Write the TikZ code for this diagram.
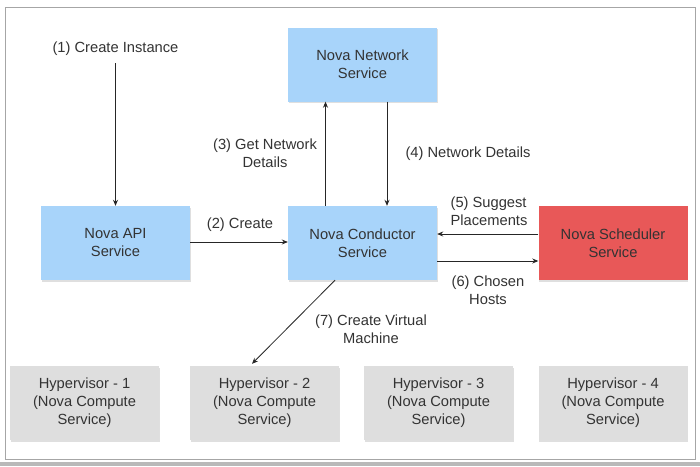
\documentclass[tikz,border=0pt]{standalone}
\usepackage{fontspec}
\setmainfont{Liberation Sans}
\usetikzlibrary{arrows.meta,shadows}
\definecolor{novablue}{RGB}{168,212,250}
\definecolor{novared}{RGB}{232,88,88}
\definecolor{hvgray}{RGB}{222,222,222}
\definecolor{txtgray}{RGB}{51,51,51}
\tikzset{
    service/.style={minimum width=149pt, minimum height=74pt, align=center,
        inner sep=0pt, text=txtgray, font=\fontsize{14.7}{18}\selectfont,
        drop shadow={shadow xshift=0.5pt, shadow yshift=-1.5pt, opacity=0.25}},
    label/.style={align=center, inner sep=1pt, text=txtgray,
        font=\fontsize{14.7}{17.5}\selectfont},
    arr/.style={-{Stealth[length=6pt,width=5pt]}, line width=0.8pt, black!85}
}
\begin{document}
\begin{tikzpicture}[x=1pt,y=-1pt]
        \useasboundingbox (0,0) rectangle (700,466);
        \fill[white] (0,0) rectangle (700,466);
        \draw[gray!70, line width=1pt] (5,7) rectangle (695,459);
        \fill[gray!55] (0,462) rectangle (700,466);
        % services
        \node[service, fill=novablue] (net) at (362.5,64.5) {Nova Network\\Service};
        \node[service, fill=novablue] (api) at (115.5,243) {Nova API\\Service};
        \node[service, fill=novablue] (cond) at (362.5,243) {Nova Conductor\\Service};
        \node[service, fill=novared] (sched) at (613,243) {Nova Scheduler\\Service};
        % hypervisors
        \foreach \i/\x in {1/84.5, 2/264.5, 3/438.5, 4/613}
            \node[service, fill=hvgray] (hv\i) at (\x,403) {Hypervisor - \i\\(Nova Compute\\Service)};
        % labels
        \node[label] (create) at (115.5,49) {(1) Create Instance};
        \node[label] at (240,225) {(2) Create};
        \node[label] at (265,153) {(3) Get Network\\Details};
        \node[label] at (468,154) {(4) Network Details};
        \node[label, align=left] at (489,211) {(5) Suggest\\Placements};
        \node[label] at (488,290) {(6) Chosen\\Hosts};
        \node[label] at (371,329) {(7) Create Virtual\\Machine};
        % connectors
        \draw[arr] ([yshift=-6pt]create.south) -- (api.north);
        \draw[arr] ([yshift=1pt]api.east) -- ([yshift=1pt]cond.west);
        \draw[arr] ([xshift=-37pt]cond.north) -- ([xshift=-37pt]net.south);
        \draw[arr] ([xshift=24.5pt]net.south) -- ([xshift=24.5pt]cond.north);
        \draw[arr] ([yshift=9pt]sched.west) -- ([yshift=9pt]cond.east);
        \draw[arr] ([yshift=-18pt]cond.east) -- ([yshift=-18pt]sched.west);
        \draw[arr] ([xshift=-27.5pt]cond.south) -- ([xshift=-12.5pt,yshift=2pt]hv2.north);
    \end{tikzpicture}
\end{document}
